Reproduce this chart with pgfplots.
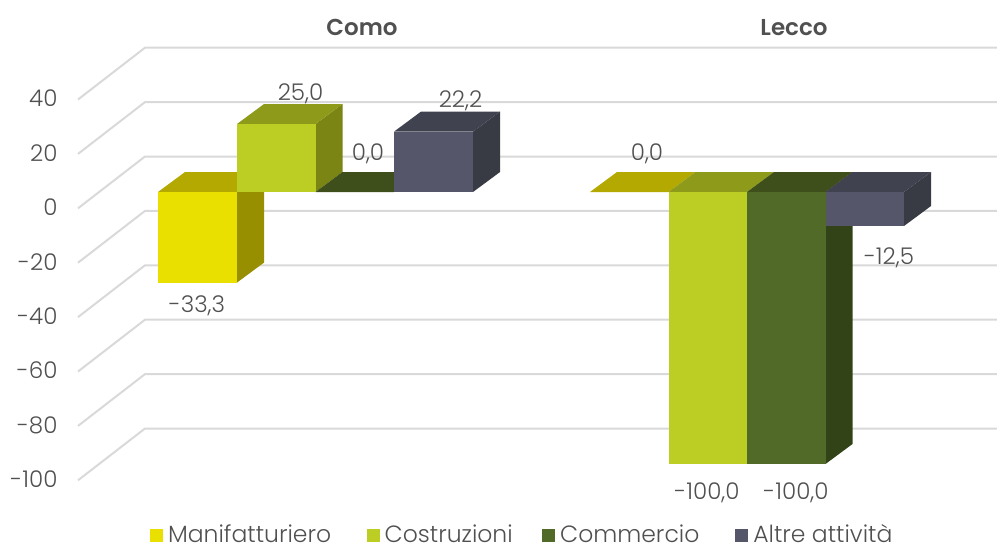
\documentclass[border=0pt]{standalone}
\usepackage{fontspec}
\setmainfont{Poppins}[UprightFont=* Light,BoldFont=* SemiBold]
\usepackage{pgfplots}
\pgfplotsset{compat=1.18}
\definecolor{yF}{HTML}{EAE000}\definecolor{yT}{HTML}{B3A900}\definecolor{yS}{HTML}{978E00}
\definecolor{lF}{HTML}{BCCE24}\definecolor{lT}{HTML}{8E9B1A}\definecolor{lS}{HTML}{7A8514}
\definecolor{gF}{HTML}{526A27}\definecolor{gT}{HTML}{3E4F1C}\definecolor{gS}{HTML}{334318}
\definecolor{aF}{HTML}{55566A}\definecolor{aT}{HTML}{414250}\definecolor{aS}{HTML}{383A44}
\definecolor{txt}{HTML}{505050}\definecolor{grd}{HTML}{D9D9D9}
\newcommand{\fnt}{\fontsize{23}{26}\selectfont}
\begin{document}
\begin{tikzpicture}[x=1pt,y=1pt]
\useasboundingbox (0,0) rectangle (997,544);
\begin{axis}[
  at={(0,0)},anchor=south west,scale only axis,width=997pt,height=544pt,
  xmin=0,xmax=997,ymin=-129.41,ymax=70.59,clip=true,
  axis line style={draw=none},major tick length=0pt,xtick=\empty,
  ytick={34.33,14.33,-5.67,-25.67,-45.67,-65.67,-85.67,-105.67},
  yticklabels={40,20,0,-20,-40,-60,-80,-100},
  yticklabel style={anchor=east,xshift=61pt,text=txt,font=\fnt},
  legend style={at={(150pt,-2pt)},anchor=south west,draw=none,fill=none,legend columns=4,
    font=\fontsize{23.5}{26}\selectfont,text=txt,inner sep=0pt,outer sep=0pt,
    /tikz/every even column/.append style={column sep=27pt}},
  legend cell align=left,
  every axis plot/.append style={forget plot,draw=none},
]
% back wall grid lines: front end, back corner, right end
\addplot[draw=grd,line width=2pt] coordinates {(78,34) (145,53.05) (997,53.05)};
\addplot[draw=grd,line width=2pt] coordinates {(78,14) (145,33.05) (997,33.05)};
\addplot[draw=grd,line width=2pt] coordinates {(78,-6) (145,13.05) (997,13.05)};
\addplot[draw=grd,line width=2pt] coordinates {(78,-26) (145,-6.95) (997,-6.95)};
\addplot[draw=grd,line width=2pt] coordinates {(78,-46) (145,-26.95) (997,-26.95)};
\addplot[draw=grd,line width=2pt] coordinates {(78,-66) (145,-46.95) (997,-46.95)};
\addplot[draw=grd,line width=2pt] coordinates {(78,-86) (145,-66.95) (997,-66.95)};
\addplot[draw=grd,line width=2pt] coordinates {(78,-106) (145,-86.95) (997,-86.95)};
% Como: Manifatturiero -33.3
\addplot[fill=yS] coordinates {(237,0) (264,7.35) (264,-25.95) (237,-33.3)} --cycle;
\addplot[fill=yT] coordinates {(158,0) (185,7.35) (264,7.35) (237,0)} --cycle;
\addplot[fill=yF] coordinates {(158,0) (237,0) (237,-33.3) (158,-33.3)} --cycle;
% Como: Costruzioni 25.0
\addplot[fill=lS] coordinates {(315.5,0) (342.5,7.35) (342.5,32.35) (315.5,25)} --cycle;
\addplot[fill=lT] coordinates {(237,25) (264,32.35) (342.5,32.35) (315.5,25)} --cycle;
\addplot[fill=lF] coordinates {(237,0) (315.5,0) (315.5,25) (237,25)} --cycle;
% Como: Commercio 0.0
\addplot[fill=gT] coordinates {(315.5,0) (342.5,7.35) (421,7.35) (394,0)} --cycle;
% Como: Altre attivita 22.2
\addplot[fill=aS] coordinates {(473,0) (500,7.35) (500,29.55) (473,22.2)} --cycle;
\addplot[fill=aT] coordinates {(394,22.2) (421,29.55) (500,29.55) (473,22.2)} --cycle;
\addplot[fill=aF] coordinates {(394,0) (473,0) (473,22.2) (394,22.2)} --cycle;
% Lecco: Manifatturiero 0.0
\addplot[fill=yT] coordinates {(590,0) (617,7.35) (695.5,7.35) (668.5,0)} --cycle;
% Lecco: Costruzioni -100
\addplot[fill=lT] coordinates {(668.5,0) (695.5,7.35) (774,7.35) (747,0)} --cycle;
\addplot[fill=lF] coordinates {(668.5,0) (747,0) (747,-100) (668.5,-100)} --cycle;
% Lecco: Commercio -100
\addplot[fill=gS] coordinates {(825.5,0) (852.5,7.35) (852.5,-92.65) (825.5,-100)} --cycle;
\addplot[fill=gT] coordinates {(747,0) (774,7.35) (852.5,7.35) (825.5,0)} --cycle;
\addplot[fill=gF] coordinates {(747,0) (825.5,0) (825.5,-100) (747,-100)} --cycle;
% Lecco: Altre attivita -12.5
\addplot[fill=aS] coordinates {(904,0) (931,7.35) (931,-5.15) (904,-12.5)} --cycle;
\addplot[fill=aT] coordinates {(825.5,0) (852.5,7.35) (931,7.35) (904,0)} --cycle;
\addplot[fill=aF] coordinates {(825.5,0) (904,0) (904,-12.5) (825.5,-12.5)} --cycle;
% labels
\node[text=txt,font=\fnt] at (axis cs:300.5,36.1) {25,0};
\node[text=txt,font=\fnt] at (axis cs:368,14) {0,0};
\node[text=txt,font=\fnt] at (axis cs:460.5,33.5) {22,2};
\node[text=txt,font=\fnt] at (axis cs:197,-41.9) {-33,3};
\node[text=txt,font=\fnt] at (axis cs:647,14) {0,0};
\node[text=txt,font=\fnt] at (axis cs:707,-110.7) {-100,0};
\node[text=txt,font=\fnt] at (axis cs:796,-110.7) {-100,0};
\node[text=txt,font=\fnt] at (axis cs:889,-24.2) {-12,5};
\node[text=txt,font=\fnt\bfseries] at (axis cs:362,60.6) {Como};
\node[text=txt,font=\fnt\bfseries] at (axis cs:794,60.6) {Lecco};
% legend
\addlegendimage{legend image code/.code={\fill[yF] (0pt,-8pt) rectangle (13pt,5pt);}}\addlegendentry{\hspace*{3pt}Manifatturiero\hspace*{6.6pt}}
\addlegendimage{legend image code/.code={\fill[lF] (0pt,-8pt) rectangle (13pt,5pt);}}\addlegendentry{\hspace*{3pt}Costruzioni\hspace*{0.4pt}}
\addlegendimage{legend image code/.code={\fill[gF] (0pt,-8pt) rectangle (13pt,5pt);}}\addlegendentry{\hspace*{3pt}Commercio\hspace*{7pt}}
\addlegendimage{legend image code/.code={\fill[aF] (0pt,-8pt) rectangle (13pt,5pt);}}\addlegendentry{\hspace*{3pt}Altre attività}
\end{axis}
\end{tikzpicture}
\end{document}
